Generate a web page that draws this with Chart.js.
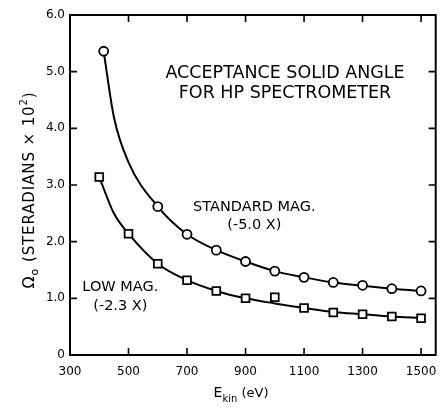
<!DOCTYPE html>
<html>
<head>
<meta charset="utf-8">
<script src="https://cdn.jsdelivr.net/npm/chart.js@4/dist/chart.umd.min.js"></script>
<style>
  html, body { margin: 0; padding: 0; background: #fff; }
  canvas { display: block; }
</style>
</head>
<body>
<canvas id="c" width="443" height="414"></canvas>
<script>
// ---- data ----
const xTickValues = [300, 500, 700, 900, 1100, 1300, 1500];
const yTickValues = [0, 1, 2, 3, 4, 5, 6];
const yTickLabels = ['0', '1.0', '2.0', '3.0', '4.0', '5.0', '6.0'];

// measured points (open circles): standard magnification (-5.0 X)
const stdMagX = [415, 600, 700, 800, 900, 1000, 1100, 1200, 1300, 1400, 1500];
const stdMagY = [5.36, 2.62, 2.13, 1.85, 1.65, 1.48, 1.37, 1.28, 1.23, 1.17, 1.13];

// measured points (open squares): low magnification (-2.3 X)
const lowMagX = [400, 500, 600, 700, 800, 900, 1000, 1100, 1200, 1300, 1400, 1500];
const lowMagY = [3.14, 2.14, 1.61, 1.32, 1.13, 1.00, 1.02, 0.83, 0.75, 0.72, 0.68, 0.65];

// smooth curves drawn through the points
const stdFitX = [415, 450, 500, 600, 700, 800, 900, 1000, 1100, 1200, 1300, 1400, 1500];
const stdFitY = [5.36, 4.20, 3.40, 2.62, 2.13, 1.85, 1.65, 1.48, 1.37, 1.28, 1.22, 1.17, 1.13];
const lowFitX = [400, 450, 500, 600, 700, 800, 900, 1000, 1100, 1200, 1300, 1400, 1500];
const lowFitY = [3.14, 2.50, 2.14, 1.61, 1.32, 1.13, 1.00, 0.91, 0.83, 0.76, 0.72, 0.68, 0.65];

const titleLines = ['ACCEPTANCE SOLID ANGLE', 'FOR HP SPECTROMETER'];
const stdLabel = ['STANDARD MAG.', '(-5.0 X)'];
const lowLabel = ['LOW MAG.', '(-2.3 X)'];

const pts = (xs, ys) => xs.map((x, i) => ({ x: x, y: ys[i] }));
const FONT = '"DejaVu Sans", "Liberation Sans", sans-serif';

// ---- frame with inward ticks on all four sides, plus texts ----
const framePlugin = {
  id: 'frame',
  afterDraw(chart, args, opts) {
    const ctx = chart.ctx;
    const a = chart.chartArea;
    const xs = chart.scales.x, ys = chart.scales.y;
    ctx.save();
    ctx.strokeStyle = '#000';
    ctx.lineWidth = 2;
    ctx.strokeRect(a.left, a.top, a.right - a.left, a.bottom - a.top);
    ctx.lineWidth = 1.6;
    const tl = 7;
    ctx.beginPath();
    xTickValues.forEach(v => {
      const px = xs.getPixelForValue(v);
      ctx.moveTo(px, a.bottom); ctx.lineTo(px, a.bottom - tl);
      ctx.moveTo(px, a.top); ctx.lineTo(px, a.top + tl);
    });
    yTickValues.forEach(v => {
      const py = ys.getPixelForValue(v);
      ctx.moveTo(a.left, py); ctx.lineTo(a.left + tl, py);
      ctx.moveTo(a.right, py); ctx.lineTo(a.right - tl, py);
    });
    ctx.stroke();

    ctx.fillStyle = '#000';
    ctx.textAlign = 'center';
    ctx.textBaseline = 'middle';
    // annotations placed in data coordinates
    const put = (lines, o) => {
      ctx.font = o.size + 'px ' + FONT;
      lines.forEach((t, i) => {
        ctx.fillText(t, xs.getPixelForValue(o.x), ys.getPixelForValue(o.y) + i * o.gap);
      });
    };
    put(titleLines, opts.title);
    put(stdLabel, opts.std);
    put(lowLabel, opts.low);

    // segmented text with subscripts/superscripts
    const drawSegs = (segs, cx, cy, spacing) => {
      ctx.letterSpacing = (spacing || 0) + 'px';
      let w = 0;
      segs.forEach(s => { ctx.font = s.size + 'px ' + FONT; s.w = ctx.measureText(s.t).width; w += s.w; });
      let x = cx - w / 2;
      ctx.textAlign = 'left';
      ctx.textBaseline = 'alphabetic';
      segs.forEach(s => {
        ctx.font = s.size + 'px ' + FONT;
        ctx.fillText(s.t, x, cy + (s.dy || 0));
        x += s.w;
      });
      ctx.letterSpacing = '0px';
    };
    // x-axis title
    drawSegs([
      { t: 'E', size: 14 },
      { t: 'kin', size: 10, dy: 5 },
      { t: ' (eV)', size: 13 }
    ], 241, 397, 0);
    // y-axis title (rotated)
    ctx.save();
    ctx.translate(34, 190);
    ctx.rotate(-Math.PI / 2);
    drawSegs([
      { t: 'Ω', size: 16 },
      { t: 'o', size: 11, dy: 4 },
      { t: ' (STERADIANS × 10', size: 15 },
      { t: '2', size: 10, dy: -7 },
      { t: ')', size: 15 }
    ], 0, 0, 0.9);
    ctx.restore();
    ctx.restore();
  }
};

new Chart(document.getElementById('c'), {
  type: 'scatter',
  data: {
    datasets: [
      { label: 'Standard mag. (curve)', data: pts(stdFitX, stdFitY), showLine: true, pointRadius: 0,
        borderColor: '#000', borderWidth: 2, cubicInterpolationMode: 'monotone', order: 2 },
      { label: 'Low mag. (curve)', data: pts(lowFitX, lowFitY), showLine: true, pointRadius: 0,
        borderColor: '#000', borderWidth: 2, cubicInterpolationMode: 'monotone', order: 2 },
      { label: 'Standard mag. (-5.0 X)', data: pts(stdMagX, stdMagY), showLine: false,
        pointStyle: 'circle', pointRadius: 4.5, pointBorderWidth: 1.8,
        pointBackgroundColor: '#fff', pointBorderColor: '#000', order: 0 },
      { label: 'Low mag. (-2.3 X)', data: pts(lowMagX, lowMagY), showLine: false,
        pointStyle: 'rect', pointRadius: 5.5, pointBorderWidth: 1.8,
        pointBackgroundColor: '#fff', pointBorderColor: '#000', order: 0 }
    ]
  },
  options: {
    responsive: false,
    animation: false,
    devicePixelRatio: 1,
    layout: { padding: { left: 0, right: 6, top: 15, bottom: 0 } },
    plugins: {
      legend: { display: false },
      tooltip: { enabled: false },
      frame: {
        title: { x: 1035, y: 4.97, size: 17.5, gap: 20 },
        std: { x: 930, y: 2.60, size: 14.5, gap: 18 },
        low: { x: 472, y: 1.19, size: 14.5, gap: 19 }
      }
    },
    scales: {
      x: {
        type: 'linear', min: 300, max: 1550,
        grid: { display: false, drawTicks: false },
        border: { display: false },
        afterBuildTicks: s => { s.ticks = xTickValues.map(v => ({ value: v })); },
        afterFit: s => { s.height = 59; s.paddingLeft = 0; s.paddingRight = 0; },
        ticks: { color: '#000', padding: 10, maxRotation: 0, autoSkip: false,
                 font: { family: FONT, size: 12 }, callback: v => String(v) }
      },
      y: {
        type: 'linear', min: 0, max: 6,
        grid: { display: false, drawTicks: false },
        border: { display: false },
        afterBuildTicks: s => { s.ticks = yTickValues.map(v => ({ value: v })); },
        afterFit: s => { s.width = 70; s.paddingTop = 0; s.paddingBottom = 0; },
        ticks: { color: '#000', padding: 5, autoSkip: false,
                 font: { family: FONT, size: 12 },
                 callback: v => yTickLabels[yTickValues.indexOf(v)] }
      }
    }
  },
  plugins: [framePlugin]
});
</script>
</body>
</html>
